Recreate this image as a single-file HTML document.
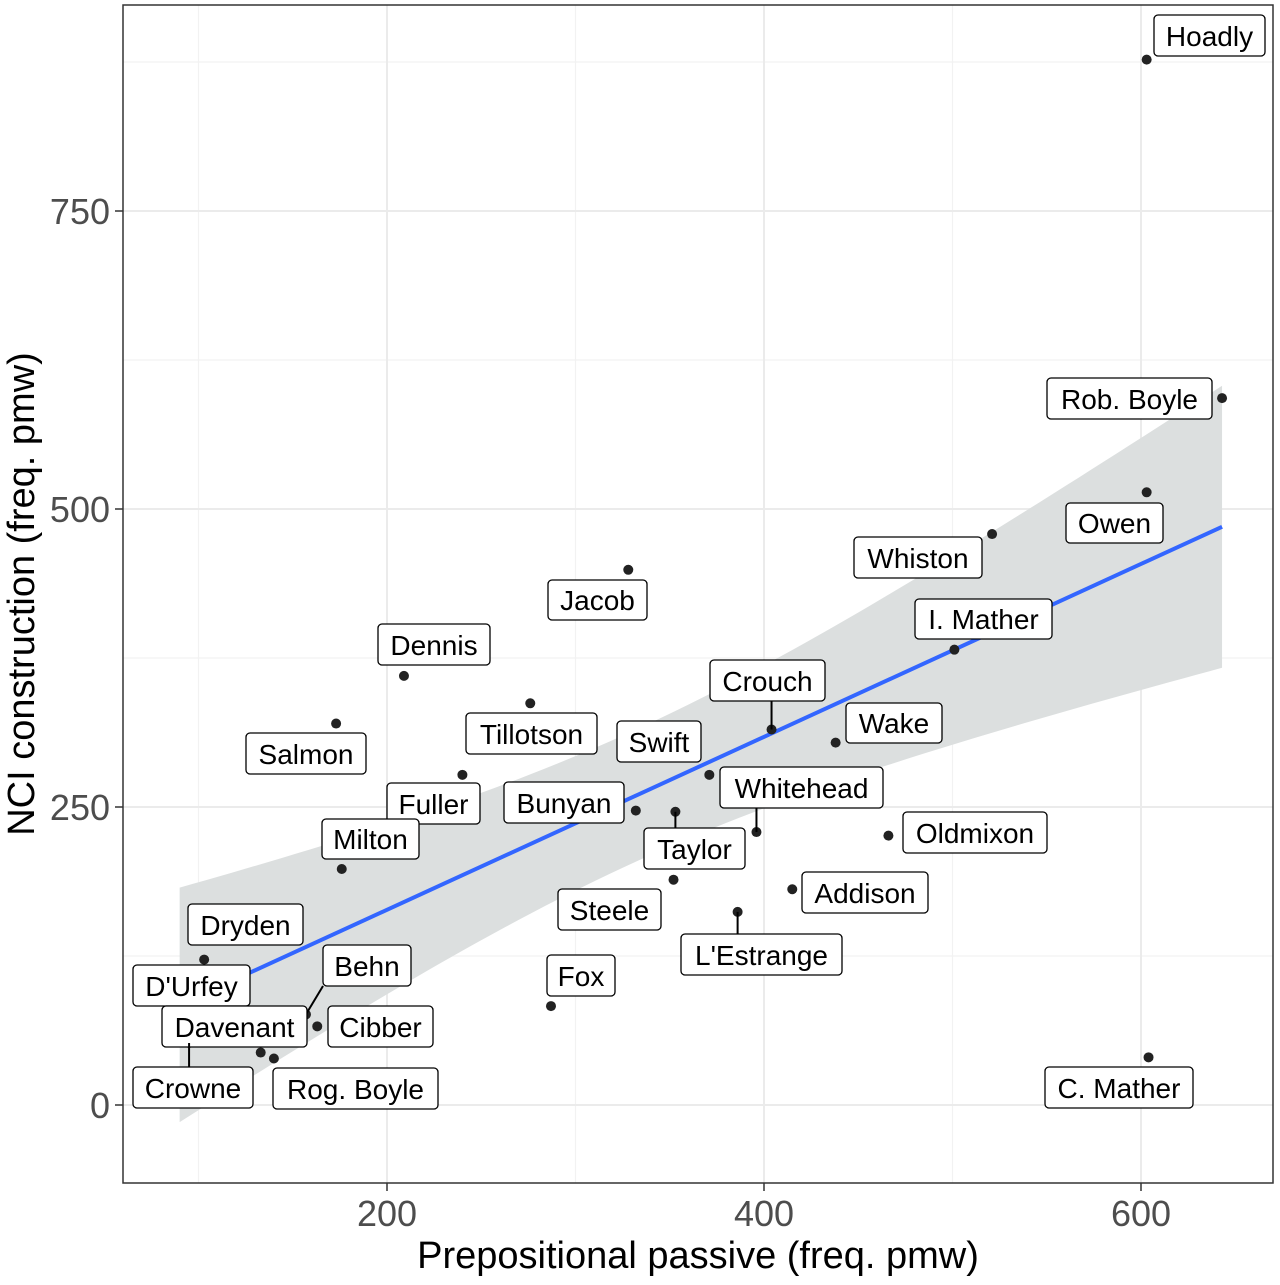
<!DOCTYPE html>
<html><head><meta charset="utf-8"><style>
body{margin:0;background:#fff}
svg text{font-family:"Liberation Sans",sans-serif}
</style></head><body>
<svg id="chart" width="1280" height="1280" viewBox="0 0 1280 1280" xmlns="http://www.w3.org/2000/svg">
<rect x="123" y="5" width="1150" height="1178" fill="#fff"/>
<g id="grid"></g><g id="band"></g><g id="marks"></g><g id="labels"></g>
<rect x="123" y="5" width="1150" height="1178" fill="none" stroke="#333" stroke-width="1.5"/>
<g id="axes"></g>
<text x="698" y="1268" font-size="38" text-anchor="middle" fill="#000">Prepositional passive (freq. pmw)</text>
<text transform="translate(34,594) rotate(-90)" font-size="38" text-anchor="middle" fill="#000">NCI construction (freq. pmw)</text>
</svg>
<script>
const names=["Hoadly","Rob. Boyle","Owen","Whiston","I. Mather","Jacob","Dennis","Tillotson","Crouch","Wake","Salmon","Swift","Fuller","Bunyan","Taylor","Whitehead","Oldmixon","Milton","Steele","Addison","L'Estrange","Dryden","D'Urfey","Behn","Davenant","Cibber","Crowne","Rog. Boyle","Fox","C. Mather"];
const xVals=[603,643,603,521,501,328,209,276,404,438,173,371,240,332,353,396,466,176,352,415,386,103,90,157,133,163,95,140,287,604];
const yVals=[877,593,514,479,382,449,360,337,315,304,320,277,277,247,246,229,226,198,189,181,162,122,100,76,44,66,52,39,83,40];
const xTicks=[200,400,600];
const yTicks=[0,250,500,750];
// label box layout (pixels): left, top, right, bottom
const labelBoxes=[[1154,15,1265,56],[1047,378,1212,419],[1066,503,1163,543],[854,537,982,578],[915,599,1052,639],[548,580,647,620],[378,624,490,665],[466,713,597,754],[710,660,825,701],[846,703,942,743],[246,733,366,774],[617,721,701,762],[387,783,480,824],[504,782,624,823],[644,828,745,869],[720,767,883,808],[903,812,1047,853],[322,819,419,859],[558,889,661,930],[802,872,928,913],[681,934,842,975],[188,904,303,945],[133,965,250,1006],[323,945,411,986],[162,1006,307,1047],[328,1006,433,1047],[133,1067,253,1108],[273,1068,438,1109],[547,955,615,996],[1045,1067,1193,1108]];
const NS="http://www.w3.org/2000/svg";
const X=v=>10+v*1.885, Y=v=>1105-v*1.192;
function mk(tag,attrs,parent){const e=document.createElementNS(NS,tag);for(const k in attrs)e.setAttribute(k,attrs[k]);document.getElementById(parent).appendChild(e);return e;}
[100,300,500].forEach(v=>{const l=mk('line',{x1:X(v),x2:X(v),y1:5,y2:1183,stroke:'#f2f2f2','stroke-width':1.2},'grid');});
[125,375,625,875].forEach(v=>{const l=mk('line',{x1:123,x2:1273,y1:Y(v),y2:Y(v),stroke:'#f2f2f2','stroke-width':1.2},'grid');});
xTicks.forEach(v=>{const l=mk('line',{x1:X(v),x2:X(v),y1:5,y2:1183,stroke:'#ebebeb','stroke-width':2},'grid');
 const t=mk('line',{x1:X(v),x2:X(v),y1:1183,y2:1191,stroke:'#333','stroke-width':1.5},'axes');
 const s=mk('text',{x:X(v),y:1226,'font-size':36,'text-anchor':'middle',fill:'#4d4d4d'},'axes');s.textContent=v;});
yTicks.forEach(v=>{const l=mk('line',{x1:123,x2:1273,y1:Y(v),y2:Y(v),stroke:'#ebebeb','stroke-width':2},'grid');
 const t=mk('line',{x1:115,x2:123,y1:Y(v),y2:Y(v),stroke:'#333','stroke-width':1.5},'axes');
 const s=mk('text',{x:110,y:Y(v)+13,'font-size':36,'text-anchor':'end',fill:'#4d4d4d'},'axes');s.textContent=v;});
const n=xVals.length,mx=xVals.reduce((a,b)=>a+b)/n,my=yVals.reduce((a,b)=>a+b)/n;
let sxx=0,sxy=0;for(let i=0;i<n;i++){sxx+=(xVals[i]-mx)**2;sxy+=(xVals[i]-mx)*(yVals[i]-my);}
const b=sxy/sxx,a=my-b*mx;let sse=0;for(let i=0;i<n;i++)sse+=(yVals[i]-a-b*xVals[i])**2;
const s=Math.sqrt(sse/(n-2)),tq=2.048;
const x0=Math.min(...xVals),x1=Math.max(...xVals);
let up=[],lo=[];for(let k=0;k<=80;k++){const xv=x0+(x1-x0)*k/80,f=a+b*xv,h=tq*s*Math.sqrt(1/n+(xv-mx)**2/sxx);up.push(X(xv)+','+Y(f+h));lo.unshift(X(xv)+','+Y(f-h));}
const band=mk('polygon',{points:up.concat(lo).join(' '),fill:'#dcdfdf'},'band');

const rl=mk('line',{x1:X(x0),y1:Y(a+b*x0),x2:X(x1),y2:Y(a+b*x1),stroke:'#3366ff','stroke-width':4},'band');

for(let i=0;i<n;i++){
 const px=X(xVals[i]),py=Y(yVals[i]);
 const c=mk('circle',{cx:px,cy:py,r:5,fill:'#222'},'marks');
 
 
 const bx=labelBoxes[i];
 const cx=Math.max(bx[0],Math.min(bx[2],px)),cy=Math.max(bx[1],Math.min(bx[3],py));
 if(Math.hypot(cx-px,cy-py)>16){const ln=mk('line',{x1:px,y1:py,x2:cx,y2:cy,stroke:'#000','stroke-width':2},'labels');
  }
 const r=mk('rect',{x:bx[0],y:bx[1],width:bx[2]-bx[0],height:bx[3]-bx[1],rx:4,fill:'#fff',stroke:'#000','stroke-width':1.3},'labels');
 
 const t=mk('text',{x:(bx[0]+bx[2])/2,y:bx[3]-10,'font-size':28,'text-anchor':'middle',fill:'#000'},'labels');
 t.textContent=names[i];
 
}
</script>
</body></html>
